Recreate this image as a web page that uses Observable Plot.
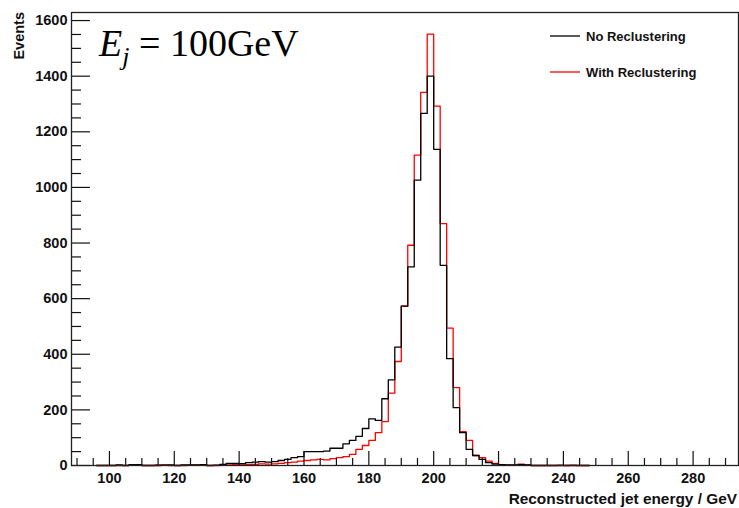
<!DOCTYPE html>
<html>
<head>
<meta charset="utf-8">
<script src="https://cdn.jsdelivr.net/npm/d3@7"></script>
<script src="https://cdn.jsdelivr.net/npm/@observablehq/plot@0.6"></script>
<style>
  html, body { margin: 0; padding: 0; background: #fff; }
  #chart { position: relative; width: 739px; height: 508px; }
  svg text { font-family: "Liberation Sans", Arial, sans-serif; }
</style>
</head>
<body>
<div id="chart"></div>
<script>
// Bin lower edges (GeV), 2 GeV wide
const binStart = [96,98,100,102,104,106,108,110,112,114,116,118,120,122,124,126,128,130,132,134,136,138,140,142,144,146,148,150,152,154,156,158,160,162,164,166,168,170,172,174,176,178,180,182,184,186,188,190,192,194,196,198,200,202,204,206,208,210,212,214,216,218,220,222,224,226,228,230,232,234,236,238,240,242,244,246];
const binEnd = 248;
// Events per bin
const noRecluster = [0,0,0,2,0,3,3,0,0,0,1,2,0,2,2,2,3,0,1,4,8,8,7,10,12,14,12,14,18,22,28,32,50,50,50,52,62,62,78,90,105,133,168,162,240,308,426,573,714,1026,1266,1400,1137,720,384,208,118,58,36,22,10,5,3,2,2,3,2,0,0,0,0,0,0,0,0,0];
const withRecluster = [0,0,0,0,0,1,2,0,0,2,2,0,0,0,1,1,3,0,0,2,5,4,2,3,4,6,5,6,8,10,12,16,18,20,22,20,25,28,32,40,58,72,90,118,158,260,374,573,792,1116,1342,1551,1292,870,494,280,122,90,36,28,16,8,3,1,1,5,2,0,0,0,0,1,0,1,0,0];

const seriesNames = ["No Reclustering", "With Reclustering"];
const seriesColors = ["#000000", "#ff0000"];

const xMajor = [100,120,140,160,180,200,220,240,260,280];
const xMinor = [90,95,105,110,115,125,130,135,145,150,155,165,170,175,185,190,195,205,210,215,225,230,235,245,250,255,265,270,275,285,290];
const yMajor = [0,200,400,600,800,1000,1200,1400,1600];
const yMinor = [50,100,150,250,300,350,450,500,550,650,700,750,850,900,950,1050,1100,1150,1250,1300,1350,1450,1500,1550];

const xDomain = [88.3, 294];
const yDomain = [0, 1629];

function steps(vals) {
  const pts = binStart.map((x, i) => ({x, y: vals[i]}));
  pts.push({x: binEnd, y: vals[vals.length - 1]});
  return pts;
}
const blackPts = steps(noRecluster);
const redPts = steps(withRecluster);

const W = 739, H = 508;
const mL = 71, mR = 1, mT = 12, mB = 43;
const frameW = W - mL - mR, frameH = H - mT - mB;

const plot = Plot.plot({
  width: W, height: H,
  marginLeft: mL, marginRight: mR, marginTop: mT, marginBottom: mB,
  x: {domain: xDomain, axis: null},
  y: {domain: yDomain, axis: null},
  marks: [
    Plot.line(redPts, {x: "x", y: "y", curve: "step-after", stroke: seriesColors[1], strokeWidth: 1.3}),
    Plot.line(blackPts, {x: "x", y: "y", curve: "step-after", stroke: seriesColors[0], strokeWidth: 1.3}),
    Plot.ruleX(xMajor, {x: d => d, insetTop: frameH - 14, stroke: "#111", strokeWidth: 1.2}),
    Plot.ruleX(xMinor, {x: d => d, insetTop: frameH - 7, stroke: "#111", strokeWidth: 1.2}),
    Plot.ruleY(yMajor, {y: d => d, insetRight: frameW - 19, stroke: "#111", strokeWidth: 1.2}),
    Plot.ruleY(yMinor, {y: d => d, insetRight: frameW - 10, stroke: "#111", strokeWidth: 1.2}),
    Plot.frame({stroke: "#222", strokeWidth: 1.3}),
    Plot.text(xMajor, {x: d => d, text: d => String(d), frameAnchor: "bottom", dy: 17, fontSize: 14.5, fontWeight: "bold", fill: "#111"}),
    Plot.text(yMajor, {y: d => d, text: d => String(d), frameAnchor: "left", dx: -4, textAnchor: "end", fontSize: 14.5, fontWeight: "bold", fill: "#111"})
  ]
});

document.getElementById("chart").appendChild(plot);

const svg = d3.select(plot);
// Axis titles
svg.append("text")
  .attr("x", 737).attr("y", 504)
  .attr("text-anchor", "end")
  .attr("font-size", 15.4).attr("font-weight", "bold").attr("fill", "#111")
  .text("Reconstructed jet energy / GeV");
svg.append("text")
  .attr("transform", "translate(24,12) rotate(-90)")
  .attr("text-anchor", "end")
  .attr("font-size", 14.5).attr("font-weight", "bold").attr("fill", "#111")
  .text("Events");

// Legend
const legendY = [36, 72];
seriesNames.forEach((name, i) => {
  svg.append("line")
    .attr("x1", 550).attr("x2", 580)
    .attr("y1", legendY[i]).attr("y2", legendY[i])
    .attr("stroke", seriesColors[i]).attr("stroke-width", 1.3);
  svg.append("text")
    .attr("x", 586).attr("y", legendY[i] + 4.5)
    .attr("text-anchor", "start")
    .attr("font-size", 13).attr("font-weight", "bold").attr("fill", "#111")
    .text(name);
});

// Big label
const t = svg.append("text")
  .attr("x", 99).attr("y", 56)
  .attr("text-anchor", "start")
  .style("font-family", "'Liberation Serif', 'DejaVu Serif', serif")
  .attr("font-size", 38).attr("fill", "#000");
t.append("tspan").attr("font-style", "italic").text("E");
t.append("tspan").attr("font-style", "italic").attr("font-size", 26).attr("dy", 9).text("j");
t.append("tspan").attr("dy", -9).text(" = 100GeV");
</script>
</body>
</html>
